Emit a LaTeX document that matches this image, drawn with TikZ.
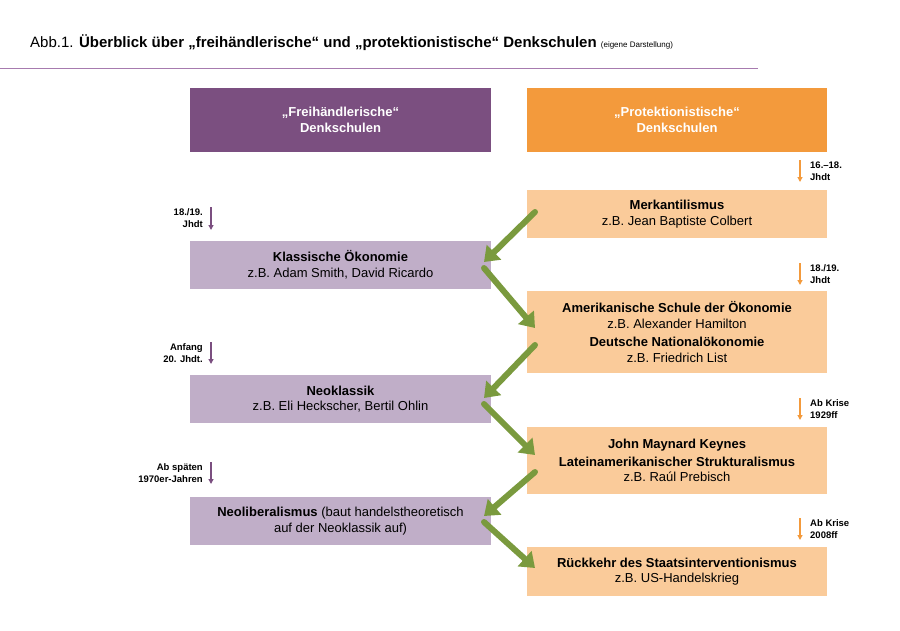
\documentclass[tikz,border=0pt]{standalone}
\usepackage{fontspec}
\setmainfont{Liberation Sans}
\usetikzlibrary{arrows.meta}
\definecolor{purp}{HTML}{7B4F80}
\definecolor{lpurp}{HTML}{C0AEC8}
\definecolor{orng}{HTML}{F39A3C}
\definecolor{lorng}{HTML}{FACB9A}
\definecolor{grn}{HTML}{7A9A3E}
\definecolor{line}{HTML}{A77BAF}
\begin{document}
\begin{tikzpicture}[x=1pt,y=-1pt,
 box/.style={minimum width=301pt,align=center,inner sep=0pt,font=\fontsize{13}{15.5}\selectfont},
 garr/.style={draw=grn,line width=6pt,-{Triangle[length=14pt,width=20pt]}},
 tarr/.style={-{Triangle[length=5pt,width=5pt]},line width=1.2pt},
 tl/.style={font=\bfseries\fontsize{9.5}{12}\selectfont,inner sep=0pt}]
\useasboundingbox (0,0) rectangle (900,630);
\node[anchor=west,inner sep=0pt,font=\fontsize{15}{18}\selectfont] (title) at (30,43) {Abb.1. \textbf{Überblick über „freihändlerische“ und „protektionistische“ Denkschulen} {\fontsize{8}{10}\selectfont (eigene Darstellung)}};
\draw[line,line width=1pt] (0,68) coordinate (l1) -- (758,68) coordinate (l2);
\node[box,fill=purp,text=white,minimum height=64pt,font=\bfseries\fontsize{13}{15.5}\selectfont] (lh) at (340.5,120) {„Freihändlerische“\\Denkschulen};
\node[box,fill=orng,text=white,minimum height=64pt,minimum width=300pt,font=\bfseries\fontsize{13}{15.5}\selectfont] (rh) at (677,120) {„Protektionistische“\\Denkschulen};
\node[box,fill=lorng,minimum height=48pt,minimum width=300pt] (m) at (677,214) {\textbf{Merkantilismus}\\z.B. Jean Baptiste Colbert};
\node[box,fill=lpurp,minimum height=48pt] (k) at (340.5,265) {\textbf{Klassische Ökonomie}\\z.B. Adam Smith, David Ricardo};
\node[box,fill=lorng,minimum height=82pt,minimum width=300pt] (a) at (677,332) {\textbf{Amerikanische Schule der Ökonomie}\\z.B. Alexander Hamilton\\[3pt]\textbf{Deutsche Nationalökonomie}\\z.B. Friedrich List};
\node[box,fill=lpurp,minimum height=48pt] (n) at (340.5,399) {\textbf{Neoklassik}\\z.B. Eli Heckscher, Bertil Ohlin};
\node[box,fill=lorng,minimum height=67pt,minimum width=300pt] (j) at (677,460.5) {\textbf{John Maynard Keynes}\\[2pt]\textbf{Lateinamerikanischer Strukturalismus}\\z.B. Raúl Prebisch};
\node[box,fill=lpurp,minimum height=48pt] (nl) at (340.5,521) {\textbf{Neoliberalismus} (baut handelstheoretisch\\auf der Neoklassik auf)};
\node[box,fill=lorng,minimum height=49pt,minimum width=300pt] (r) at (677,571.5) {\textbf{Rückkehr des Staatsinterventionismus}\\z.B. US-Handelskrieg};
\coordinate (g1a) at (535,212); \coordinate (g1b) at (484,262);
\coordinate (g2a) at (484,268); \coordinate (g2b) at (535,328);
\coordinate (g3a) at (535,345); \coordinate (g3b) at (484,398);
\coordinate (g4a) at (484,404); \coordinate (g4b) at (535,455);
\coordinate (g5a) at (535,472); \coordinate (g5b) at (484,516);
\coordinate (g6a) at (484,522); \coordinate (g6b) at (535,568);
\foreach \i in {1,...,6} \draw[garr,line cap=round] (g\i a) -- (g\i b);
% time markers right
\foreach \n/\ya/\yb/\t in {r1/160/182/{16.–18.\\Jhdt},r2/263/285/{18./19.\\Jhdt},r3/398/420/{Ab Krise\\1929ff},r4/518/540/{Ab Krise\\2008ff}}{
 \coordinate (\n a) at (800,\ya); \coordinate (\n b) at (800,\yb);
 \draw[tarr,draw=orng,fill=orng] (\n a) -- (\n b);
 \node[tl,anchor=west,align=left] (\n t) at (810,{(\ya+\yb)/2}) {\t};
}
\foreach \n/\ya/\yb/\t in {q1/207/230/{18./19.\\Jhdt},q2/342/364/{Anfang\\20. Jhdt.},q3/462/484/{Ab späten\\1970er-Jahren}}{
 \coordinate (\n a) at (211,\ya); \coordinate (\n b) at (211,\yb);
 \draw[tarr,draw=purp,fill=purp] (\n a) -- (\n b);
 \node[tl,anchor=east,align=right] (\n t) at (203,{(\ya+\yb)/2}) {\t};
}
\end{tikzpicture}
\end{document}
